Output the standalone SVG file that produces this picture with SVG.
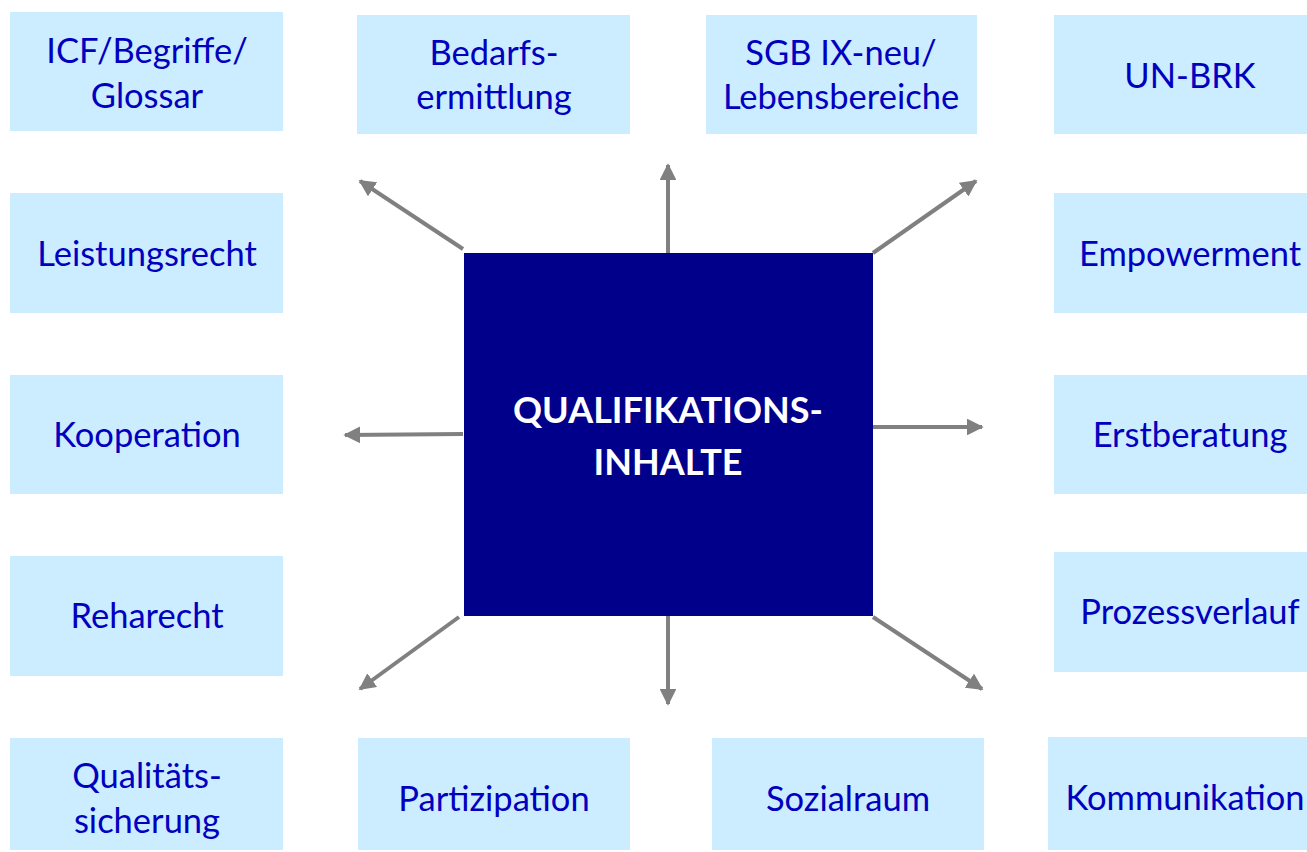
<svg xmlns="http://www.w3.org/2000/svg" width="1307" height="852" viewBox="0 0 1307 852">
<style>
.box{fill:#CCECFF}
.t{font-family:Lato,"Open Sans",sans-serif;font-size:34.5px;fill:#0000BF;text-anchor:middle}
.c{font-family:Lato,"Open Sans",sans-serif;font-size:36px;font-weight:bold;fill:#FFFFFF;text-anchor:middle}
.a{stroke:#808080;stroke-width:4;fill:none;marker-end:url(#ah)}
</style>
<defs>
<marker id="ah" viewBox="0 0 10 10" refX="9" refY="5" markerWidth="4.2" markerHeight="4.2" markerUnits="strokeWidth" orient="auto">
<path d="M0,0 L10,5 L0,10 z" fill="#808080"/>
</marker>
</defs>
<rect width="1307" height="852" fill="#FFFFFF"/>
<g id="connectors">
<line class="a" x1="463" y1="249" x2="360" y2="181"/>
<line class="a" x1="668" y1="253" x2="668" y2="165"/>
<line class="a" x1="873" y1="253" x2="976" y2="181"/>
<line class="a" x1="463" y1="434" x2="345" y2="435"/>
<line class="a" x1="873" y1="427" x2="982" y2="427"/>
<line class="a" x1="459" y1="617" x2="360" y2="689"/>
<line class="a" x1="668" y1="616" x2="668" y2="704"/>
<line class="a" x1="873" y1="617" x2="982" y2="689"/>
</g>
<g id="center">
<rect x="464" y="253" width="409" height="363" fill="#00008B"/>
<text class="c" x="668" y="423">QUALIFIKATIONS-</text>
<text class="c" x="668" y="475">INHALTE</text>
</g>
<g id="icf"><rect class="box" x="10" y="12" width="273" height="119"/>
<text class="t" x="147" y="63">ICF/Begriffe/</text><text class="t" x="147" y="108">Glossar</text></g>
<g id="bedarf"><rect class="box" x="357" y="15" width="273" height="119"/>
<text class="t" x="494" y="65">Bedarfs-</text><text class="t" x="494" y="109">ermittlung</text></g>
<g id="sgb"><rect class="box" x="706" y="15" width="271" height="119"/>
<text class="t" x="841" y="65">SGB IX-neu/</text><text class="t" x="841" y="109">Lebensbereiche</text></g>
<g id="unbrk"><rect class="box" x="1054" y="15" width="253" height="119"/>
<text class="t" x="1190" y="88">UN-BRK</text></g>
<g id="leistung"><rect class="box" x="10" y="193" width="273" height="120"/>
<text class="t" x="147" y="266">Leistungsrecht</text></g>
<g id="empower"><rect class="box" x="1054" y="193" width="253" height="120"/>
<text class="t" x="1190" y="266">Empowerment</text></g>
<g id="koop"><rect class="box" x="10" y="375" width="273" height="119"/>
<text class="t" x="147" y="447">Kooperation</text></g>
<g id="erst"><rect class="box" x="1054" y="375" width="253" height="119"/>
<text class="t" x="1190" y="447">Erstberatung</text></g>
<g id="reha"><rect class="box" x="10" y="556" width="273" height="120"/>
<text class="t" x="147" y="628">Reharecht</text></g>
<g id="prozess"><rect class="box" x="1054" y="552" width="253" height="120"/>
<text class="t" x="1190" y="624">Prozessverlauf</text></g>
<g id="qual"><rect class="box" x="10" y="738" width="273" height="112"/>
<text class="t" x="147" y="788">Qualitäts-</text><text class="t" x="147" y="833">sicherung</text></g>
<g id="partizipation"><rect class="box" x="358" y="738" width="272" height="112"/>
<text class="t" x="494" y="811">Partizipation</text></g>
<g id="sozial"><rect class="box" x="712" y="738" width="272" height="112"/>
<text class="t" x="848" y="811">Sozialraum</text></g>
<g id="komm"><rect class="box" x="1048" y="737" width="259" height="113"/>
<text class="t" x="1185" y="810">Kommunikation</text></g>
</svg>
